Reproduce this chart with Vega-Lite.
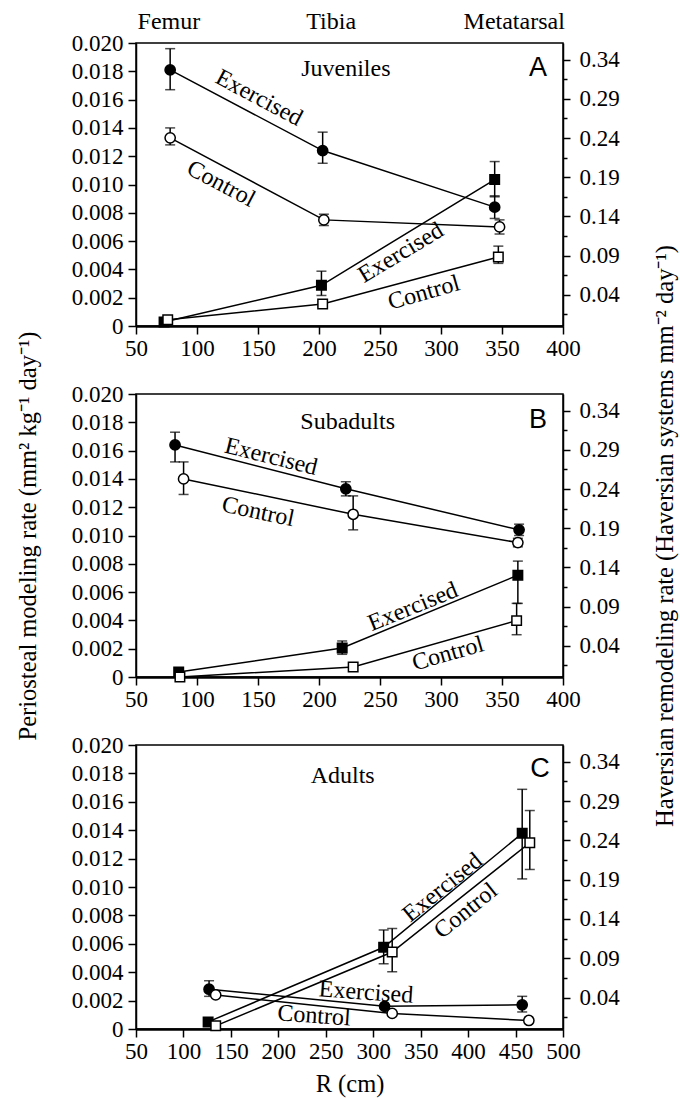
{
  "$schema": "https://vega.github.io/schema/vega-lite/v6.json",
  "background": "white",
  "padding": {"left": 14, "top": 9, "right": 1, "bottom": 5},
  "bounds": "flush",
  "spacing": 68,
  "config": {
    "view": {"stroke": "black", "strokeWidth": 1.5},
    "font": "Liberation Serif",
    "axis": {"grid": false, "domainColor": "black", "tickColor": "black", "labelColor": "black", "titleColor": "black", "labelFont": "Liberation Serif", "titleFont": "Liberation Serif", "labelFontSize": 23, "titleFontSize": 24.5, "titleFontWeight": "normal", "domainWidth": 1.5, "tickWidth": 1.5, "labelOverlap": false, "labelFlush": false},
    "axisX": {"labelFont": "Liberation Serif", "titleFont": "Liberation Serif"},
    "axisY": {"labelFont": "Liberation Serif", "titleFont": "Liberation Serif"}
  },
  "datasets": {
    "peri": [
      {"panel": "A", "bone": "Femur", "group": "Exercised", "R": 78, "rate": 0.0181, "lo": 0.0167, "hi": 0.0196},
      {"panel": "A", "bone": "Tibia", "group": "Exercised", "R": 203, "rate": 0.0124, "lo": 0.0115, "hi": 0.0137},
      {"panel": "A", "bone": "Metatarsal", "group": "Exercised", "R": 344, "rate": 0.0084, "lo": 0.0076, "hi": 0.0092},
      {"panel": "A", "bone": "Femur", "group": "Control", "R": 78, "rate": 0.0133, "lo": 0.0128, "hi": 0.0140},
      {"panel": "A", "bone": "Tibia", "group": "Control", "R": 204, "rate": 0.0075, "lo": 0.0071, "hi": 0.0079},
      {"panel": "A", "bone": "Metatarsal", "group": "Control", "R": 348, "rate": 0.0070, "lo": 0.0065, "hi": 0.0075},
      {"panel": "B", "bone": "Femur", "group": "Exercised", "R": 82, "rate": 0.0164, "lo": 0.0152, "hi": 0.0173},
      {"panel": "B", "bone": "Tibia", "group": "Exercised", "R": 222, "rate": 0.0133, "lo": 0.0128, "hi": 0.0138},
      {"panel": "B", "bone": "Metatarsal", "group": "Exercised", "R": 364, "rate": 0.0104, "lo": 0.0100, "hi": 0.0108},
      {"panel": "B", "bone": "Femur", "group": "Control", "R": 89, "rate": 0.0140, "lo": 0.0129, "hi": 0.0152},
      {"panel": "B", "bone": "Tibia", "group": "Control", "R": 228, "rate": 0.0115, "lo": 0.0104, "hi": 0.0128},
      {"panel": "B", "bone": "Metatarsal", "group": "Control", "R": 363, "rate": 0.0095, "lo": 0.0092, "hi": 0.0098},
      {"panel": "C", "bone": "Femur", "group": "Exercised", "R": 127, "rate": 0.0028, "lo": 0.0023, "hi": 0.0034},
      {"panel": "C", "bone": "Tibia", "group": "Exercised", "R": 312, "rate": 0.0016},
      {"panel": "C", "bone": "Metatarsal", "group": "Exercised", "R": 457, "rate": 0.0017, "lo": 0.0012, "hi": 0.0023},
      {"panel": "C", "bone": "Femur", "group": "Control", "R": 134, "rate": 0.0024},
      {"panel": "C", "bone": "Tibia", "group": "Control", "R": 320, "rate": 0.0011},
      {"panel": "C", "bone": "Metatarsal", "group": "Control", "R": 464, "rate": 0.0006}
    ],
    "hav": [
      {"panel": "A", "bone": "Femur", "group": "Exercised", "R": 73, "rate": 0.005},
      {"panel": "A", "bone": "Tibia", "group": "Exercised", "R": 202, "rate": 0.052, "lo": 0.039, "hi": 0.070},
      {"panel": "A", "bone": "Metatarsal", "group": "Exercised", "R": 344, "rate": 0.187, "lo": 0.165, "hi": 0.210},
      {"panel": "A", "bone": "Femur", "group": "Control", "R": 76, "rate": 0.008},
      {"panel": "A", "bone": "Tibia", "group": "Control", "R": 203, "rate": 0.028, "lo": 0.025, "hi": 0.031},
      {"panel": "A", "bone": "Metatarsal", "group": "Control", "R": 347, "rate": 0.088, "lo": 0.080, "hi": 0.102},
      {"panel": "B", "bone": "Femur", "group": "Exercised", "R": 85, "rate": 0.0064},
      {"panel": "B", "bone": "Tibia", "group": "Exercised", "R": 219, "rate": 0.037, "lo": 0.029, "hi": 0.046},
      {"panel": "B", "bone": "Metatarsal", "group": "Exercised", "R": 363, "rate": 0.130, "lo": 0.094, "hi": 0.148},
      {"panel": "B", "bone": "Femur", "group": "Control", "R": 86, "rate": 0.0},
      {"panel": "B", "bone": "Tibia", "group": "Control", "R": 228, "rate": 0.0128},
      {"panel": "B", "bone": "Metatarsal", "group": "Control", "R": 362, "rate": 0.072, "lo": 0.054, "hi": 0.094},
      {"panel": "C", "bone": "Femur", "group": "Exercised", "R": 126, "rate": 0.009},
      {"panel": "C", "bone": "Tibia", "group": "Exercised", "R": 311, "rate": 0.104, "lo": 0.083, "hi": 0.126},
      {"panel": "C", "bone": "Metatarsal", "group": "Exercised", "R": 457, "rate": 0.249, "lo": 0.191, "hi": 0.305},
      {"panel": "C", "bone": "Femur", "group": "Control", "R": 134, "rate": 0.004},
      {"panel": "C", "bone": "Tibia", "group": "Control", "R": 320, "rate": 0.098, "lo": 0.073, "hi": 0.128},
      {"panel": "C", "bone": "Metatarsal", "group": "Control", "R": 465, "rate": 0.237, "lo": 0.203, "hi": 0.278}
    ],
    "notes": [
      {"panel": "A", "key": "bone", "label": "Femur", "R": 77, "rate": 0.02148},
      {"panel": "A", "key": "bone", "label": "Tibia", "R": 210, "rate": 0.02148},
      {"panel": "A", "key": "bone", "label": "Metatarsal", "R": 360, "rate": 0.02148},
      {"panel": "A", "key": "title", "label": "Juveniles", "R": 222, "rate": 0.01816},
      {"panel": "A", "key": "letter", "label": "A", "R": 379.5, "rate": 0.01823},
      {"panel": "A", "key": "ex1", "label": "Exercised", "R": 150.8, "rate": 0.01611},
      {"panel": "A", "key": "co1", "label": "Control", "R": 119.7, "rate": 0.01004},
      {"panel": "A", "key": "ex2", "label": "Exercised", "R": 267.2, "rate": 0.00516},
      {"panel": "A", "key": "co2", "label": "Control", "R": 286, "rate": 0.00233},
      {"panel": "B", "key": "title", "label": "Subadults", "R": 223.5, "rate": 0.01802},
      {"panel": "B", "key": "letter", "label": "B", "R": 379.5, "rate": 0.01816},
      {"panel": "B", "key": "ex1", "label": "Exercised", "R": 160.7, "rate": 0.01555},
      {"panel": "B", "key": "co1", "label": "Control", "R": 150, "rate": 0.01166},
      {"panel": "B", "key": "ex2", "label": "Exercised", "R": 277, "rate": 0.00495},
      {"panel": "B", "key": "co2", "label": "Control", "R": 305.7, "rate": 0.00163},
      {"panel": "C", "key": "title", "label": "Adults", "R": 267.8, "rate": 0.01782},
      {"panel": "C", "key": "letter", "label": "C", "R": 475.7, "rate": 0.01831},
      {"panel": "C", "key": "ex1", "label": "Exercised", "R": 373.2, "rate": 0.00995},
      {"panel": "C", "key": "co1", "label": "Control", "R": 397.7, "rate": 0.00831},
      {"panel": "C", "key": "ex2", "label": "Exercised", "R": 292.4, "rate": 0.00256},
      {"panel": "C", "key": "co2", "label": "Control", "R": 237.6, "rate": 0.00092}
    ]
  },
  "vconcat": [
    {
      "width": 427, "height": 283,
      "resolve": {"scale": {"y": "independent"}},
      "layer": [
        {
          "data": {"name": "peri"},
          "transform": [{"filter": "datum.panel == 'A'"}],
          "encoding": {
            "x": {"field": "R", "type": "quantitative", "scale": {"domain": [50, 400], "nice": false, "zero": false},
                  "axis": {"values": [50,75,100,125,150,175,200,225,250,275,300,325,350,375,400], "labelExpr": "datum.value % 50 == 0 ? datum.label : ''", "title": null, "tickSize": 8, "labelPadding": 3, "domainWidth": 2.5, "labelFont": "Liberation Serif"}},
            "y": {"field": "rate", "type": "quantitative", "scale": {"domain": [0, 0.02], "nice": false},
                  "axis": {"values": [0,0.002,0.004,0.006,0.008,0.01,0.012,0.014,0.016,0.018,0.02], "labelExpr": "datum.value == 0 ? '0' : format(datum.value, '.3f')", "title": null, "tickSize": 8, "labelPadding": 5, "labelFont": "Liberation Serif"}}
          },
          "layer": [
            {"mark": {"type": "line", "color": "black", "strokeWidth": 1.5},
             "encoding": {"detail": {"field": "group"}}},
            {"transform": [{"filter": "isValid(datum.lo)"}],
             "mark": {"type": "errorbar", "color": "black", "thickness": 1.5, "ticks": {"size": 10}},
             "encoding": {"y": {"field": "lo", "type": "quantitative"}, "y2": {"field": "hi"}}},
            {"mark": {"type": "point", "shape": "circle", "size": 105, "filled": true, "stroke": "black", "strokeWidth": 1.5, "opacity": 1},
             "encoding": {"fill": {"field": "group", "type": "nominal", "scale": {"domain": ["Exercised", "Control"], "range": ["black", "white"]}, "legend": null}}},
            {"data": {"name": "notes"}, "transform": [{"filter": "datum.panel == 'A' && (datum.key == 'bone' || datum.key == 'title')"}],
             "mark": {"type": "text", "font": "Liberation Serif", "fontSize": 24, "baseline": "middle", "align": "center", "color": "black"},
             "encoding": {"text": {"field": "label"}}},
            {"data": {"name": "notes"}, "transform": [{"filter": "datum.panel == 'A' && datum.key == 'letter'"}],
             "mark": {"type": "text", "font": "Liberation Sans", "fontSize": 27, "baseline": "middle", "align": "center", "color": "black"},
             "encoding": {"text": {"field": "label"}}},
            {"data": {"name": "notes"}, "transform": [{"filter": "datum.panel == 'A' && (datum.key == 'ex1' || datum.key == 'co1')"}],
             "mark": {"type": "text", "font": "Liberation Serif", "fontSize": 24, "baseline": "middle", "align": "center", "color": "black", "angle": 28},
             "encoding": {"text": {"field": "label"}}},
            {"data": {"name": "notes"}, "transform": [{"filter": "datum.panel == 'A' && datum.key == 'ex2'"}],
             "mark": {"type": "text", "font": "Liberation Serif", "fontSize": 24, "baseline": "middle", "align": "center", "color": "black", "angle": -31},
             "encoding": {"text": {"field": "label"}}},
            {"data": {"name": "notes"}, "transform": [{"filter": "datum.panel == 'A' && datum.key == 'co2'"}],
             "mark": {"type": "text", "font": "Liberation Serif", "fontSize": 24, "baseline": "middle", "align": "center", "color": "black", "angle": -16},
             "encoding": {"text": {"field": "label"}}}
          ]
        },
        {
          "data": {"name": "hav"},
          "transform": [{"filter": "datum.panel == 'A'"}],
          "encoding": {
            "x": {"field": "R", "type": "quantitative"},
            "y": {"field": "rate", "type": "quantitative", "scale": {"domain": [0, 0.3614], "nice": false},
                  "axis": {"orient": "right", "values": [0.015,0.04,0.065,0.09,0.115,0.14,0.165,0.19,0.215,0.24,0.265,0.29,0.315,0.34], "labelExpr": "round(datum.value*1000) % 50 == 40 ? format(datum.value, '.2f') : ''", "tickSize": {"condition": {"test": "round(datum.value*1000) % 50 == 40", "value": 7}, "value": 4}, "labelPadding": 9, "title": null, "labelFont": "Liberation Serif"}}
          },
          "layer": [
            {"mark": {"type": "line", "color": "black", "strokeWidth": 1.5},
             "encoding": {"detail": {"field": "group"}}},
            {"transform": [{"filter": "isValid(datum.lo)"}],
             "mark": {"type": "errorbar", "color": "black", "thickness": 1.5, "ticks": {"size": 10}},
             "encoding": {"y": {"field": "lo", "type": "quantitative"}, "y2": {"field": "hi"}}},
            {"mark": {"type": "point", "shape": "square", "size": 90, "filled": true, "stroke": "black", "strokeWidth": 1.5, "opacity": 1},
             "encoding": {"fill": {"field": "group", "type": "nominal", "scale": {"domain": ["Exercised", "Control"], "range": ["black", "white"]}, "legend": null}}}
          ]
        }
      ]
    },
    {
      "width": 427, "height": 283,
      "resolve": {"scale": {"y": "independent"}},
      "layer": [
        {
          "data": {"name": "peri"},
          "transform": [{"filter": "datum.panel == 'B'"}],
          "encoding": {
            "x": {"field": "R", "type": "quantitative", "scale": {"domain": [50, 400], "nice": false, "zero": false},
                  "axis": {"values": [50,75,100,125,150,175,200,225,250,275,300,325,350,375,400], "labelExpr": "datum.value % 50 == 0 ? datum.label : ''", "title": null, "tickSize": 8, "labelPadding": 3, "domainWidth": 2.5, "labelFont": "Liberation Serif"}},
            "y": {"field": "rate", "type": "quantitative", "scale": {"domain": [0, 0.02], "nice": false},
                  "axis": {"values": [0,0.002,0.004,0.006,0.008,0.01,0.012,0.014,0.016,0.018,0.02], "labelExpr": "datum.value == 0 ? '0' : format(datum.value, '.3f')", "title": "Periosteal modeling rate (mm² kg⁻¹ day⁻¹)", "titlePadding": 31, "tickSize": 8, "labelPadding": 5, "labelFont": "Liberation Serif", "titleFont": "Liberation Serif"}}
          },
          "layer": [
            {"mark": {"type": "line", "color": "black", "strokeWidth": 1.5},
             "encoding": {"detail": {"field": "group"}}},
            {"transform": [{"filter": "isValid(datum.lo)"}],
             "mark": {"type": "errorbar", "color": "black", "thickness": 1.5, "ticks": {"size": 10}},
             "encoding": {"y": {"field": "lo", "type": "quantitative"}, "y2": {"field": "hi"}}},
            {"mark": {"type": "point", "shape": "circle", "size": 105, "filled": true, "stroke": "black", "strokeWidth": 1.5, "opacity": 1},
             "encoding": {"fill": {"field": "group", "type": "nominal", "scale": {"domain": ["Exercised", "Control"], "range": ["black", "white"]}, "legend": null}}},
            {"data": {"name": "notes"}, "transform": [{"filter": "datum.panel == 'B' && datum.key == 'title'"}],
             "mark": {"type": "text", "font": "Liberation Serif", "fontSize": 24, "baseline": "middle", "align": "center", "color": "black"},
             "encoding": {"text": {"field": "label"}}},
            {"data": {"name": "notes"}, "transform": [{"filter": "datum.panel == 'B' && datum.key == 'letter'"}],
             "mark": {"type": "text", "font": "Liberation Sans", "fontSize": 27, "baseline": "middle", "align": "center", "color": "black"},
             "encoding": {"text": {"field": "label"}}},
            {"data": {"name": "notes"}, "transform": [{"filter": "datum.panel == 'B' && datum.key == 'ex1'"}],
             "mark": {"type": "text", "font": "Liberation Serif", "fontSize": 24, "baseline": "middle", "align": "center", "color": "black", "angle": 14},
             "encoding": {"text": {"field": "label"}}},
            {"data": {"name": "notes"}, "transform": [{"filter": "datum.panel == 'B' && datum.key == 'co1'"}],
             "mark": {"type": "text", "font": "Liberation Serif", "fontSize": 24, "baseline": "middle", "align": "center", "color": "black", "angle": 12},
             "encoding": {"text": {"field": "label"}}},
            {"data": {"name": "notes"}, "transform": [{"filter": "datum.panel == 'B' && datum.key == 'ex2'"}],
             "mark": {"type": "text", "font": "Liberation Serif", "fontSize": 24, "baseline": "middle", "align": "center", "color": "black", "angle": -22},
             "encoding": {"text": {"field": "label"}}},
            {"data": {"name": "notes"}, "transform": [{"filter": "datum.panel == 'B' && datum.key == 'co2'"}],
             "mark": {"type": "text", "font": "Liberation Serif", "fontSize": 24, "baseline": "middle", "align": "center", "color": "black", "angle": -16},
             "encoding": {"text": {"field": "label"}}}
          ]
        },
        {
          "data": {"name": "hav"},
          "transform": [{"filter": "datum.panel == 'B'"}],
          "encoding": {
            "x": {"field": "R", "type": "quantitative"},
            "y": {"field": "rate", "type": "quantitative", "scale": {"domain": [0, 0.3614], "nice": false},
                  "axis": {"orient": "right", "values": [0.015,0.04,0.065,0.09,0.115,0.14,0.165,0.19,0.215,0.24,0.265,0.29,0.315,0.34], "labelExpr": "round(datum.value*1000) % 50 == 40 ? format(datum.value, '.2f') : ''", "tickSize": {"condition": {"test": "round(datum.value*1000) % 50 == 40", "value": 7}, "value": 4}, "labelPadding": 9, "title": "Haversian remodeling rate (Haversian systems mm⁻² day⁻¹)", "titleAngle": -90, "titlePadding": 58, "labelFont": "Liberation Serif", "titleFont": "Liberation Serif"}}
          },
          "layer": [
            {"mark": {"type": "line", "color": "black", "strokeWidth": 1.5},
             "encoding": {"detail": {"field": "group"}}},
            {"transform": [{"filter": "isValid(datum.lo)"}],
             "mark": {"type": "errorbar", "color": "black", "thickness": 1.5, "ticks": {"size": 10}},
             "encoding": {"y": {"field": "lo", "type": "quantitative"}, "y2": {"field": "hi"}}},
            {"mark": {"type": "point", "shape": "square", "size": 90, "filled": true, "stroke": "black", "strokeWidth": 1.5, "opacity": 1},
             "encoding": {"fill": {"field": "group", "type": "nominal", "scale": {"domain": ["Exercised", "Control"], "range": ["black", "white"]}, "legend": null}}}
          ]
        }
      ]
    },
    {
      "width": 427, "height": 284,
      "resolve": {"scale": {"y": "independent"}},
      "layer": [
        {
          "data": {"name": "peri"},
          "transform": [{"filter": "datum.panel == 'C'"}],
          "encoding": {
            "x": {"field": "R", "type": "quantitative", "scale": {"domain": [50, 500], "nice": false, "zero": false},
                  "axis": {"values": [50,75,100,125,150,175,200,225,250,275,300,325,350,375,400,425,450,475,500], "labelExpr": "datum.value % 50 == 0 ? datum.label : ''", "title": "R (cm)", "titlePadding": 9, "tickSize": 8, "labelPadding": 3, "domainWidth": 2.5, "labelFont": "Liberation Serif", "titleFont": "Liberation Serif"}},
            "y": {"field": "rate", "type": "quantitative", "scale": {"domain": [0, 0.02], "nice": false},
                  "axis": {"values": [0,0.002,0.004,0.006,0.008,0.01,0.012,0.014,0.016,0.018,0.02], "labelExpr": "datum.value == 0 ? '0' : format(datum.value, '.3f')", "title": null, "tickSize": 8, "labelPadding": 5, "labelFont": "Liberation Serif"}}
          },
          "layer": [
            {"mark": {"type": "line", "color": "black", "strokeWidth": 1.5},
             "encoding": {"detail": {"field": "group"}}},
            {"transform": [{"filter": "isValid(datum.lo)"}],
             "mark": {"type": "errorbar", "color": "black", "thickness": 1.5, "ticks": {"size": 10}},
             "encoding": {"y": {"field": "lo", "type": "quantitative"}, "y2": {"field": "hi"}}},
            {"mark": {"type": "point", "shape": "circle", "size": 105, "filled": true, "stroke": "black", "strokeWidth": 1.5, "opacity": 1},
             "encoding": {"fill": {"field": "group", "type": "nominal", "scale": {"domain": ["Exercised", "Control"], "range": ["black", "white"]}, "legend": null}}},
            {"data": {"name": "notes"}, "transform": [{"filter": "datum.panel == 'C' && datum.key == 'title'"}],
             "mark": {"type": "text", "font": "Liberation Serif", "fontSize": 24, "baseline": "middle", "align": "center", "color": "black"},
             "encoding": {"text": {"field": "label"}}},
            {"data": {"name": "notes"}, "transform": [{"filter": "datum.panel == 'C' && datum.key == 'letter'"}],
             "mark": {"type": "text", "font": "Liberation Sans", "fontSize": 27, "baseline": "middle", "align": "center", "color": "black"},
             "encoding": {"text": {"field": "label"}}},
            {"data": {"name": "notes"}, "transform": [{"filter": "datum.panel == 'C' && (datum.key == 'ex1' || datum.key == 'co1')"}],
             "mark": {"type": "text", "font": "Liberation Serif", "fontSize": 24, "baseline": "middle", "align": "center", "color": "black", "angle": -39},
             "encoding": {"text": {"field": "label"}}},
            {"data": {"name": "notes"}, "transform": [{"filter": "datum.panel == 'C' && (datum.key == 'ex2' || datum.key == 'co2')"}],
             "mark": {"type": "text", "font": "Liberation Serif", "fontSize": 24, "baseline": "middle", "align": "center", "color": "black", "angle": 4},
             "encoding": {"text": {"field": "label"}}}
          ]
        },
        {
          "data": {"name": "hav"},
          "transform": [{"filter": "datum.panel == 'C'"}],
          "encoding": {
            "x": {"field": "R", "type": "quantitative"},
            "y": {"field": "rate", "type": "quantitative", "scale": {"domain": [0, 0.3614], "nice": false},
                  "axis": {"orient": "right", "values": [0.015,0.04,0.065,0.09,0.115,0.14,0.165,0.19,0.215,0.24,0.265,0.29,0.315,0.34], "labelExpr": "round(datum.value*1000) % 50 == 40 ? format(datum.value, '.2f') : ''", "tickSize": {"condition": {"test": "round(datum.value*1000) % 50 == 40", "value": 7}, "value": 4}, "labelPadding": 9, "title": null, "labelFont": "Liberation Serif"}}
          },
          "layer": [
            {"mark": {"type": "line", "color": "black", "strokeWidth": 1.5},
             "encoding": {"detail": {"field": "group"}}},
            {"transform": [{"filter": "isValid(datum.lo)"}],
             "mark": {"type": "errorbar", "color": "black", "thickness": 1.5, "ticks": {"size": 10}},
             "encoding": {"y": {"field": "lo", "type": "quantitative"}, "y2": {"field": "hi"}}},
            {"mark": {"type": "point", "shape": "square", "size": 90, "filled": true, "stroke": "black", "strokeWidth": 1.5, "opacity": 1},
             "encoding": {"fill": {"field": "group", "type": "nominal", "scale": {"domain": ["Exercised", "Control"], "range": ["black", "white"]}, "legend": null}}}
          ]
        }
      ]
    }
  ]
}
